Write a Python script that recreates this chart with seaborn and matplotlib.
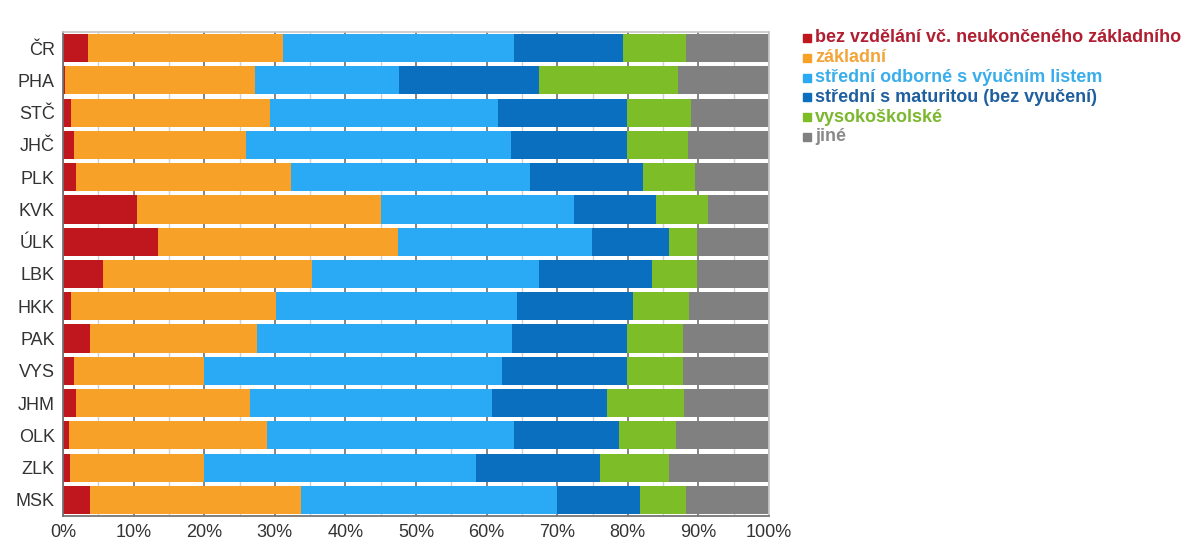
import numpy as np
import pandas as pd
import matplotlib
matplotlib.use('Agg')
import matplotlib.pyplot as plt
import seaborn as sns
from matplotlib.patches import Rectangle
from matplotlib.ticker import MultipleLocator, FixedLocator, PercentFormatter

# kraje (shora dolu)
kraje = ['ČR', 'PHA', 'STČ', 'JHČ', 'PLK', 'KVK', 'ÚLK', 'LBK',
         'HKK', 'PAK', 'VYS', 'JHM', 'OLK', 'ZLK', 'MSK']

# podily v % (odhad z obrazku)
bez_vzdelani = [3.5, 0.3, 1.2, 1.5, 1.8, 10.5, 13.4, 5.6, 1.2, 3.8, 1.6, 1.8, 0.8, 1.0, 3.8]
zakladni = [27.7, 26.9, 28.1, 24.4, 30.5, 34.5, 34.1, 29.6, 29.0, 23.7, 18.4, 24.7, 28.1, 19.0, 29.9]
vyucni_list = [32.7, 20.4, 32.3, 37.6, 33.8, 27.4, 27.4, 32.2, 34.1, 36.1, 42.2, 34.3, 35.0, 38.5, 36.3]
maturita = [15.4, 19.8, 18.3, 16.4, 16.1, 11.6, 10.9, 16.0, 16.4, 16.3, 17.7, 16.2, 14.9, 17.6, 11.7]
vysokoskolske = [8.9, 19.7, 9.0, 8.6, 7.3, 7.4, 4.0, 6.4, 8.0, 7.9, 7.9, 11.0, 8.0, 9.7, 6.5]
jine = [11.8, 12.9, 11.1, 11.5, 10.5, 8.6, 10.2, 10.2, 11.3, 12.2, 12.2, 12.0, 13.2, 14.2, 11.8]

nazvy = ['bez vzdělání vč. neukončeného základního', 'základní',
         'střední odborné s výučním listem', 'střední s maturitou (bez vyučení)',
         'vysokoškolské', 'jiné']
barvy = ['#C0171E', '#F7A128', '#2AAAF5', '#0A6FBF', '#7DBE28', '#808080']
barvy_textu = ['#B01E32', '#F2A53A', '#3AAEEA', '#1F5F9F', '#7CB82F', '#8A8A8A']

df = pd.DataFrame({'kraj': kraje})
for n, v in zip(nazvy, [bez_vzdelani, zakladni, vyucni_list, maturita, vysokoskolske, jine]):
    df[n] = v
cum = df[nazvy].cumsum(axis=1)
cum['kraj'] = kraje

sns.set_theme(style='white')
plt.rcParams['font.family'] = ['Liberation Sans', 'DejaVu Sans']

fig = plt.figure(figsize=(12.04, 5.47), dpi=100)
ax = fig.add_axes([63/1204, 1-516/547, (769-63)/1204, (516-32)/547])

# mrizka za sloupci
ax.set_axisbelow(True)
ax.xaxis.set_minor_locator(MultipleLocator(5))
ax.grid(axis='x', which='major', color='#707070', lw=1.2)
ax.grid(axis='x', which='minor', color='#d0d0d0', lw=1)

# stacked - od posledni kumulativni hodnoty dolu
for n, c in reversed(list(zip(nazvy, barvy))):
    sns.barplot(data=cum, x=n, y='kraj', color=c, saturation=1, width=0.87,
                linewidth=0, orient='h', ax=ax)

ax.set_xlim(0, 100)
ax.set_ylim(len(kraje) - 0.5, -0.5)
ax.set_xlabel('')
ax.set_ylabel('')
ax.xaxis.set_major_locator(MultipleLocator(10))
ax.xaxis.set_major_formatter(PercentFormatter(decimals=0))
ax.tick_params(axis='x', which='major', length=4, color='#707070', labelsize=13,
               labelcolor='#333333', pad=2, direction='out')
ax.tick_params(axis='x', which='minor', length=0)
ax.tick_params(axis='y', which='major', length=0, labelsize=13, labelcolor='#333333', pad=6)
ax.yaxis.set_minor_locator(FixedLocator(np.arange(-0.5, len(kraje), 1)))
ax.tick_params(axis='y', which='minor', length=5, color='#606060', direction='out')

for s in ['left', 'bottom']:
    ax.spines[s].set_color('#707070')
for s in ['top', 'right']:
    ax.spines[s].set_color('#c8c8c8')

# legenda
for i, (n, c, tc) in enumerate(zip(nazvy, barvy, barvy_textu)):
    y = 1 - (38 + i*19.8) / 547
    fig.patches.append(Rectangle((803/1204, y - 4/547), 8/1204, 8/547,
                                 transform=fig.transFigure, color=c))
    fig.text(815/1204, y, n, color=tc, fontsize=13, fontweight='bold', va='center')

fig.savefig('out.png', dpi=100)
